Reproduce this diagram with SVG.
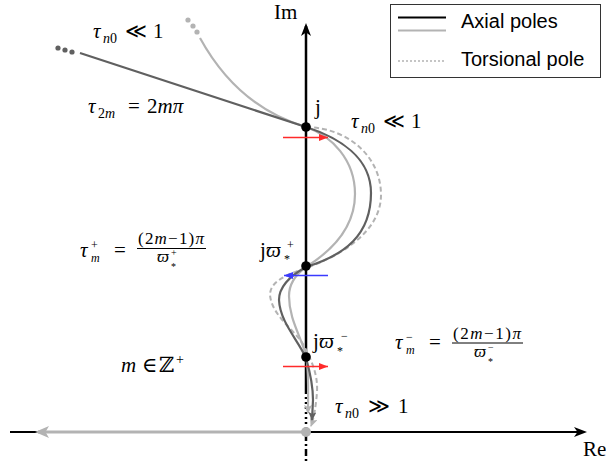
<svg xmlns="http://www.w3.org/2000/svg" width="606" height="466" viewBox="0 0 606 466">
<style>
.m{font-family:"Liberation Serif","DejaVu Serif",serif;font-size:21px;fill:#000}
.i{font-style:italic}
.s{font-size:14px}
.ss{font-size:12px}
.f{font-size:17px}
.t{font-size:10px}
.leg{font-family:"Liberation Sans",Arial,sans-serif;font-size:20px;fill:#000}
.dark{fill:none;stroke:#606060;stroke-width:2.2}
.light{fill:none;stroke:#b3b3b3;stroke-width:2.2}
.dash{fill:none;stroke:#b3b3b3;stroke-width:2;stroke-dasharray:5,3}
.pole{fill:#000}
</style>
<defs>
<marker id="ax" markerUnits="userSpaceOnUse" markerWidth="14" markerHeight="12" refX="10" refY="5" orient="auto"><path d="M0,0 L13,5 L0,10 L3.5,5 z" fill="#000"/></marker>
<marker id="gax" markerUnits="userSpaceOnUse" markerWidth="16" markerHeight="14" refX="11" refY="6" orient="auto"><path d="M0,0 L14,6 L0,12 L3.5,6 z" fill="#b3b3b3"/></marker>
<marker id="ar" markerUnits="userSpaceOnUse" markerWidth="10" markerHeight="8" refX="9" refY="3.5" orient="auto"><path d="M0,0 L9,3.5 L0,7 z" fill="#ff2a2a"/></marker>
<marker id="ab" markerUnits="userSpaceOnUse" markerWidth="10" markerHeight="8" refX="9" refY="3.5" orient="auto"><path d="M0,0 L9,3.5 L0,7 z" fill="#3a3aff"/></marker>
<marker id="ad" markerUnits="userSpaceOnUse" markerWidth="10" markerHeight="10" refX="8" refY="4" orient="auto"><path d="M0,0 L9,4 L0,8 L2,4 z" fill="#606060"/></marker>
<marker id="al" markerUnits="userSpaceOnUse" markerWidth="10" markerHeight="10" refX="8" refY="4" orient="auto"><path d="M0,0 L9,4 L0,8 L2,4 z" fill="#b3b3b3"/></marker>
</defs>

<g id="axes">
<line x1="10" y1="432" x2="584" y2="432" stroke="#000" stroke-width="2" marker-end="url(#ax)"/>
<line x1="306" y1="432" x2="38" y2="432" stroke="#b3b3b3" stroke-width="3" marker-end="url(#gax)"/>
<line x1="306" y1="392" x2="306" y2="26" stroke="#000" stroke-width="2.5" marker-end="url(#ax)"/>
<line x1="306" y1="392" x2="306" y2="431" stroke="#000" stroke-width="2.5" stroke-dasharray="2,3"/>
<line x1="306" y1="434" x2="306" y2="462" stroke="#000" stroke-width="2.5" stroke-dasharray="7,3,2,3"/>
<text class="m" x="274" y="19">Im</text>
<text class="m" x="583" y="456">Re</text>
</g>

<g id="connectors">
<path class="light" d="M200,38 C222,78 255,112 306,127 C332,136 355,160 355,194 C355,228 330,252 306,267 C295,275 289,285 289,296 C289,320 302,338 306,356 C309,370 308,390 308,413" marker-end="url(#al)"/>
<path class="dash" d="M306,127 C350,128 381,158 381,195 C381,232 340,256 306,268 C285,275 270,282 270,295 C272,318 300,333 306,350 C312,362 318,375 317,392 C316,405 314,418 311,426" marker-end="url(#al)"/>
<path class="dark" d="M80,53 L306,127 C340,138 371,158 371,193 C371,235 345,255 306,267 C288,277 279,287 279,300 C280,322 298,340 306,358 C310,372 313,385 313,400 L312,420" marker-end="url(#ad)"/>
<circle cx="58" cy="48" r="2.6" fill="#606060"/>
<circle cx="65" cy="50" r="2.6" fill="#606060"/>
<circle cx="72" cy="52" r="2.6" fill="#606060"/>
<circle cx="188" cy="20" r="2.6" fill="#b3b3b3"/>
<circle cx="193" cy="26" r="2.6" fill="#b3b3b3"/>
<circle cx="197" cy="32" r="2.6" fill="#b3b3b3"/>
<line x1="283" y1="137.5" x2="328" y2="137.5" stroke="#ff2a2a" stroke-width="1.6" marker-end="url(#ar)"/>
<line x1="328" y1="275.5" x2="284" y2="275.5" stroke="#3a3aff" stroke-width="1.6" marker-end="url(#ab)"/>
<line x1="283" y1="366.5" x2="328" y2="366.5" stroke="#ff2a2a" stroke-width="1.6" marker-end="url(#ar)"/>
</g>

<g id="pole-j"><circle class="pole" cx="306" cy="127" r="4.8"/><text class="m" x="315" y="114">j</text></g>
<g id="pole-wplus"><circle class="pole" cx="306" cy="266" r="4.8"/>
<text class="m" y="257"><tspan x="260">j</tspan><tspan x="266" class="i">ϖ</tspan><tspan x="287" y="249" class="ss">+</tspan><tspan x="284" y="263" class="ss">*</tspan></text></g>
<g id="pole-wminus"><circle class="pole" cx="306" cy="357" r="4.8"/>
<text class="m" y="348"><tspan x="313">j</tspan><tspan x="319" class="i">ϖ</tspan><tspan x="341" y="340" class="ss">−</tspan><tspan x="337" y="355" class="ss">*</tspan></text></g>
<g id="origin"><circle cx="306" cy="432" r="5" fill="#b3b3b3"/></g>

<g id="labels">
<text class="m" y="38"><tspan x="93" class="i">τ</tspan><tspan x="103" y="43" class="s i">n</tspan><tspan class="s">0</tspan><tspan x="125" y="38">≪</tspan><tspan x="153">1</tspan></text>
<text class="m" y="113"><tspan x="88" class="i">τ</tspan><tspan x="98" y="118" class="s">2</tspan><tspan class="s i">m</tspan><tspan x="128" y="113">=</tspan><tspan x="147">2</tspan><tspan class="i">mπ</tspan></text>
<text class="m" y="128"><tspan x="351" class="i">τ</tspan><tspan x="361" y="133" class="s i">n</tspan><tspan class="s">0</tspan><tspan x="383" y="128">≪</tspan><tspan x="411">1</tspan></text>
<text class="m" y="413"><tspan x="335" class="i">τ</tspan><tspan x="345" y="418" class="s i">n</tspan><tspan class="s">0</tspan><tspan x="368" y="413">≫</tspan><tspan x="398">1</tspan></text>
<text class="m" y="372"><tspan x="121" class="i">m</tspan><tspan x="142">∈</tspan><tspan x="159">ℤ</tspan><tspan x="176" y="364" class="s">+</tspan></text>
<g id="tau-plus">
<text class="m" y="257"><tspan x="80" class="i">τ</tspan><tspan x="91" y="249" class="ss">+</tspan><tspan x="91" y="262" class="ss i">m</tspan><tspan x="114" y="257">=</tspan></text>
<text class="m f" x="138" y="244" textLength="66" lengthAdjust="spacing">(2<tspan class="i">m</tspan>−1)<tspan class="i">π</tspan></text>
<line x1="137" y1="248.5" x2="206" y2="248.5" stroke="#000" stroke-width="1"/>
<text class="m f" y="262"><tspan x="157" class="i">ϖ</tspan><tspan x="171" y="256" class="t">+</tspan><tspan x="171" y="270" class="t">*</tspan></text>
</g>
<g id="tau-minus">
<text class="m" y="349"><tspan x="395" class="i">τ</tspan><tspan x="406" y="341" class="ss">−</tspan><tspan x="406" y="354" class="ss i">m</tspan><tspan x="429" y="349">=</tspan></text>
<text class="m f" x="453" y="339" textLength="68" lengthAdjust="spacing">(2<tspan class="i">m</tspan>−1)<tspan class="i">π</tspan></text>
<line x1="452" y1="343" x2="523" y2="343" stroke="#000" stroke-width="1"/>
<text class="m f" y="357"><tspan x="474" class="i">ϖ</tspan><tspan x="488" y="351" class="t">−</tspan><tspan x="488" y="365" class="t">*</tspan></text>
</g>
</g>

<g id="legend">
<rect x="390.5" y="4.5" width="210" height="73" fill="#fff" stroke="#333" stroke-width="1"/>
<line x1="398" y1="17.5" x2="446" y2="17.5" stroke="#000" stroke-width="2"/>
<line x1="398" y1="30.5" x2="446" y2="30.5" stroke="#b3b3b3" stroke-width="2"/>
<line x1="398" y1="61" x2="446" y2="61" stroke="#b3b3b3" stroke-width="1.5" stroke-dasharray="2,2"/>
<text class="leg" x="461" y="28">Axial poles</text>
<text class="leg" x="461" y="66">Torsional pole</text>
</g>
</svg>
